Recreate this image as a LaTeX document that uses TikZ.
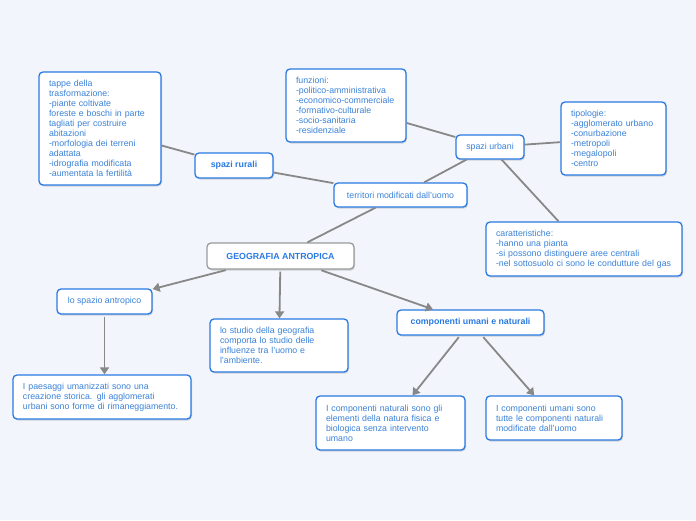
\documentclass[tikz,border=0pt]{standalone}
\usepackage{fontspec}
\setsansfont{Liberation Sans}
\usetikzlibrary{arrows.meta, shadows}
\definecolor{pagebg}{HTML}{F2F5FC}
\definecolor{mapblue}{HTML}{2A7AE2}
\definecolor{maptext}{HTML}{3A82D8}
\definecolor{linkgray}{HTML}{888888}
\definecolor{rootgray}{HTML}{9A9A9A}

\begin{document}
\begin{tikzpicture}[x=1pt, y=-1pt, font=\sffamily\fontsize{8.8}{10}\selectfont,
  box/.style={rectangle, draw=mapblue, line width=1.3pt, rounded corners=4pt, fill=white, text=maptext,
    drop shadow={opacity=0.3, shadow xshift=1pt, shadow yshift=-1.5pt}},
  topic/.style={box, align=center, inner sep=2pt},
  note/.style={box, align=left, inner xsep=10pt, inner ysep=2pt},
  root/.style={box, draw=rootgray, align=center, font=\sffamily\bfseries\fontsize{8.8}{10}\selectfont, text=mapblue},
  link/.style={draw=linkgray, line width=1.8pt},
  arrow/.style={link, -{Triangle[length=7pt, width=9pt]}, shorten <=2pt}
]
  \useasboundingbox[fill=pagebg] (0,0) rectangle (696,520);

  \node[root, minimum width=147pt, minimum height=26pt] (geo) at (280.5,256) {GEOGRAFIA ANTROPICA};

  \node[topic, minimum width=133pt, minimum height=24pt] (territori) at (400.5,195) {territori modificati dall'uomo};
  \node[topic, minimum width=78pt, minimum height=25pt, font=\sffamily\bfseries\fontsize{8.8}{10}\selectfont, text=mapblue] (rurali) at (234,165.5) {spazi rurali};
  \node[topic, minimum width=68pt, minimum height=24pt] (urbani) at (490,147) {spazi urbani};

  \node[note, text width=102pt, minimum height=113pt] (tappe) at (100,128.5)
    {tappe della\\trasformazione:\\-piante coltivate\\foreste e boschi in parte\\tagliati per costruire\\abitazioni\\-morfologia dei terreni\\adattata\\-idrografia modificata\\-aumentata la fertilità};
  \node[note, text width=100pt, minimum height=73pt] (funzioni) at (346,105.5)
    {funzioni:\\-politico-amministrativa\\-economico-commerciale\\-formativo-culturale\\-socio-sanitaria\\-residenziale};
  \node[note, text width=85pt, minimum height=73pt] (tipologie) at (613.5,138.5)
    {tipologie:\\-agglomerato urbano\\-conurbazione\\-metropoli\\-megalopoli\\-centro};
  \node[note, text width=176pt, minimum height=54pt] (caratt) at (584,249)
    {caratteristiche:\\-hanno una pianta\\-si possono distinguere aree centrali\\-nel sottosuolo ci sono le condutture del gas};

  \node[topic, minimum width=95pt, minimum height=25pt] (spazio) at (104.5,301.5) {lo spazio antropico};
  \node[note, text width=118pt, minimum height=53pt] (studio) at (279,345.5)
    {lo studio della geografia\\comporta lo studio delle\\influenze tra l'uomo e\\l'ambiente.};
  \node[topic, minimum width=147pt, minimum height=25pt, font=\sffamily\bfseries\fontsize{8.8}{10}\selectfont, text=mapblue] (comp) at (470.5,322.5) {componenti umani e naturali};

  \node[note, text width=158pt, minimum height=44pt] (paesaggi) at (102,397)
    {I paesaggi umanizzati sono una\\creazione storica. gli agglomerati\\urbani sono forme di rimaneggiamento.};
  \node[note, text width=129pt, minimum height=54pt] (naturali) at (390.5,423)
    {I componenti naturali sono gli\\elementi della natura fisica e\\biologica senza intervento\\umano};
  \node[note, text width=116pt, minimum height=44pt] (umani) at (554,418)
    {I componenti umani sono\\tutte le componenti naturali\\modificate dall'uomo};

  % plain links
  \draw[link] (tappe) -- (rurali);
  \draw[link] (rurali) -- (territori);
  \draw[link] (funzioni) -- (urbani);
  \draw[link] (urbani) -- (tipologie);
  \draw[link] (urbani) -- (caratt);
  \draw[link] (urbani) -- (territori);
  \draw[link] (territori) -- (geo);

  % arrows
  \draw[arrow] (geo) -- (spazio);
  \draw[arrow] (geo) -- (studio);
  \draw[arrow] (geo) -- (comp);
  \draw[arrow] (spazio.south) -- (spazio.south |- paesaggi.north);
  \draw[arrow] (comp) -- (naturali);
  \draw[arrow] (comp) -- (umani);
\end{tikzpicture}
\end{document}
